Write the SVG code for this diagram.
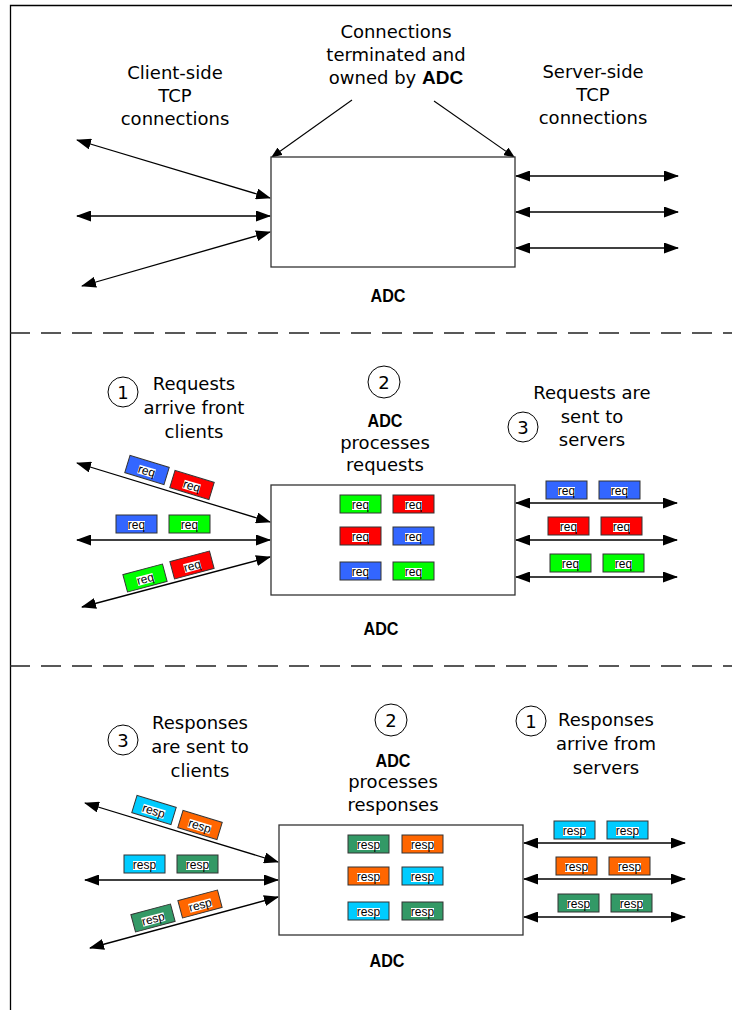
<svg xmlns="http://www.w3.org/2000/svg" width="732" height="1010" viewBox="0 0 732 1010">
<style>
.t{font-family:"DejaVu Sans",Verdana,sans-serif;font-size:18px;fill:#000;text-anchor:middle}
.b{font-family:"Liberation Sans",Arial,sans-serif;font-weight:bold;font-size:19px;fill:#000;text-anchor:middle}
.box{fill:#fff;stroke:#333;stroke-width:1.3}
.ln{stroke:#000;stroke-width:1.3;fill:none;marker-start:url(#ah);marker-end:url(#ah)}
.co{stroke:#000;stroke-width:1.1;fill:none;marker-end:url(#ah2)}
.frame{stroke:#000;stroke-width:1.3;fill:none}
.dash{stroke:#222;stroke-width:1.5;stroke-dasharray:20 11;fill:none}
.num{fill:#fff;stroke:#000;stroke-width:1}
.p{stroke:#333;stroke-width:1}
.w{fill:#fff;stroke:none}
.lt{font-family:"Liberation Sans",Arial,sans-serif;font-size:12px;fill:#000;text-anchor:middle}
.bl{fill:#3366FF}.rd{fill:#FF0000}.gr{fill:#00FF00}.cy{fill:#00CCFF}.or{fill:#FF6600}.sg{fill:#339966}
</style>
<defs>
<marker id="ah" markerUnits="userSpaceOnUse" markerWidth="15" markerHeight="11" viewBox="0 0 15 11" refX="14" refY="5.5" orient="auto-start-reverse"><path d="M0,0 L15,5.5 L0,11 z" fill="#000"/></marker>
<marker id="ah2" markerUnits="userSpaceOnUse" markerWidth="11" markerHeight="9" viewBox="0 0 11 9" refX="10" refY="4.5" orient="auto"><path d="M0,0 L11,4.5 L0,9 z" fill="#000"/></marker>
<g id="req"><rect class="w" x="12" y="6" width="17" height="9" fill="#fff"/><text class="lt" x="20.5" y="14" font-family="Liberation Sans, Arial, sans-serif" font-size="12" text-anchor="middle">req</text></g>
<g id="resp"><rect class="w" x="9" y="6" width="23" height="9" fill="#fff"/><text class="lt" x="20.5" y="14" font-family="Liberation Sans, Arial, sans-serif" font-size="12" text-anchor="middle">resp</text></g>
</defs>
<rect width="732" height="1010" fill="#fff"/>
<g id="frame">
<path class="frame" d="M10.5,1010 V5.5 H732"/>
<path class="dash" d="M10,333 H732"/>
<path class="dash" d="M10,666 H732"/>
</g>
<g id="connectors">
<line class="ln" x1="77" y1="140" x2="270" y2="198"/>
<line class="ln" x1="77" y1="216" x2="270" y2="216"/>
<line class="ln" x1="82" y1="286" x2="270" y2="232"/>
<line class="ln" x1="516" y1="176" x2="678" y2="176"/>
<line class="ln" x1="516" y1="212" x2="678" y2="212"/>
<line class="ln" x1="516" y1="248" x2="678" y2="248"/>
<line class="co" x1="352" y1="100" x2="272" y2="157"/>
<line class="co" x1="434" y1="101" x2="514" y2="157"/>
<line class="ln" x1="77" y1="463" x2="270" y2="522"/>
<line class="ln" x1="77" y1="540" x2="270" y2="540"/>
<line class="ln" x1="82" y1="607" x2="270" y2="557"/>
<line class="ln" x1="516" y1="503" x2="677" y2="503"/>
<line class="ln" x1="516" y1="540" x2="677" y2="540"/>
<line class="ln" x1="516" y1="577" x2="677" y2="577"/>
<line class="ln" x1="85" y1="803" x2="278" y2="862"/>
<line class="ln" x1="85" y1="880" x2="278" y2="880"/>
<line class="ln" x1="90" y1="948" x2="278" y2="897"/>
<line class="ln" x1="524" y1="843" x2="685" y2="843"/>
<line class="ln" x1="524" y1="879" x2="685" y2="879"/>
<line class="ln" x1="524" y1="917" x2="685" y2="917"/>
</g>
<g id="top-section">
<g id="adc-top"><rect class="box" x="271" y="157" width="244" height="110"/><text class="b" x="388" y="302" textLength="35" lengthAdjust="spacingAndGlyphs">ADC</text></g>
<g id="label-client"><text class="t" x="175" y="79">Client-side</text><text class="t" x="175" y="102">TCP</text><text class="t" x="175" y="125">connections</text></g>
<g id="label-owned"><text class="t" x="396" y="38">Connections</text><text class="t" x="396" y="61">terminated and</text><text class="t" x="396" y="84">owned by <tspan font-family="Liberation Sans, Arial, sans-serif" font-weight="bold" font-size="19">ADC</tspan></text></g>
<g id="label-server"><text class="t" x="593" y="78">Server-side</text><text class="t" x="593" y="101">TCP</text><text class="t" x="593" y="124">connections</text></g>
</g>
<g id="middle-section">
<g id="adc-mid"><rect class="box" x="271" y="485" width="244" height="110"/>
<g transform="translate(340,495)"><rect class="p gr" width="41" height="18"/><use href="#req"/></g>
<g transform="translate(393,495)"><rect class="p rd" width="41" height="18"/><use href="#req"/></g>
<g transform="translate(340,527)"><rect class="p rd" width="41" height="18"/><use href="#req"/></g>
<g transform="translate(393,527)"><rect class="p bl" width="41" height="18"/><use href="#req"/></g>
<g transform="translate(340,562)"><rect class="p bl" width="41" height="18"/><use href="#req"/></g>
<g transform="translate(393,562)"><rect class="p gr" width="41" height="18"/><use href="#req"/></g>
<text class="b" x="381" y="635" textLength="35" lengthAdjust="spacingAndGlyphs">ADC</text></g>
<g id="req-client">
<g transform="translate(147,470) rotate(17) translate(-20.5,-9)"><rect class="p bl" width="41" height="18"/><use href="#req"/></g>
<g transform="translate(192,485) rotate(17) translate(-20.5,-9)"><rect class="p rd" width="41" height="18"/><use href="#req"/></g>
<g transform="translate(116,515)"><rect class="p bl" width="41" height="18"/><use href="#req"/></g>
<g transform="translate(169,515)"><rect class="p gr" width="41" height="18"/><use href="#req"/></g>
<g transform="translate(145,578) rotate(-15) translate(-20.5,-9)"><rect class="p gr" width="41" height="18"/><use href="#req"/></g>
<g transform="translate(192,565) rotate(-15) translate(-20.5,-9)"><rect class="p rd" width="41" height="18"/><use href="#req"/></g>
</g>
<g id="req-server">
<g transform="translate(546,481)"><rect class="p bl" width="41" height="18"/><use href="#req"/></g>
<g transform="translate(599,481)"><rect class="p bl" width="41" height="18"/><use href="#req"/></g>
<g transform="translate(548,517)"><rect class="p rd" width="41" height="18"/><use href="#req"/></g>
<g transform="translate(601,517)"><rect class="p rd" width="41" height="18"/><use href="#req"/></g>
<g transform="translate(550,554)"><rect class="p gr" width="41" height="18"/><use href="#req"/></g>
<g transform="translate(603,554)"><rect class="p gr" width="41" height="18"/><use href="#req"/></g>
</g>
<g id="step-m1"><circle class="num" cx="123" cy="392" r="15"/><text class="t" x="123" y="399">1</text>
<text class="t" x="194" y="390">Requests</text><text class="t" x="194" y="414">arrive front</text><text class="t" x="194" y="438">clients</text></g>
<g id="step-m2"><circle class="num" cx="384" cy="382" r="16"/><text class="t" x="384" y="389">2</text>
<text class="b" x="385" y="427" textLength="35" lengthAdjust="spacingAndGlyphs">ADC</text><text class="t" x="385" y="449">processes</text><text class="t" x="385" y="471">requests</text></g>
<g id="step-m3"><circle class="num" cx="523" cy="427" r="15"/><text class="t" x="523" y="434">3</text>
<text class="t" x="592" y="399">Requests are</text><text class="t" x="592" y="423">sent to</text><text class="t" x="592" y="446">servers</text></g>
</g>
<g id="bottom-section">
<g id="adc-bot"><rect class="box" x="279" y="825" width="244" height="110"/>
<g transform="translate(348,835)"><rect class="p sg" width="41" height="18"/><use href="#resp"/></g>
<g transform="translate(402,835)"><rect class="p or" width="41" height="18"/><use href="#resp"/></g>
<g transform="translate(348,867)"><rect class="p or" width="41" height="18"/><use href="#resp"/></g>
<g transform="translate(402,867)"><rect class="p cy" width="41" height="18"/><use href="#resp"/></g>
<g transform="translate(348,902)"><rect class="p cy" width="41" height="18"/><use href="#resp"/></g>
<g transform="translate(402,902)"><rect class="p sg" width="41" height="18"/><use href="#resp"/></g>
<text class="b" x="387" y="967" textLength="35" lengthAdjust="spacingAndGlyphs">ADC</text></g>
<g id="resp-client">
<g transform="translate(154,810) rotate(17) translate(-20.5,-9)"><rect class="p cy" width="41" height="18"/><use href="#resp"/></g>
<g transform="translate(200,825) rotate(17) translate(-20.5,-9)"><rect class="p or" width="41" height="18"/><use href="#resp"/></g>
<g transform="translate(124,855)"><rect class="p cy" width="41" height="18"/><use href="#resp"/></g>
<g transform="translate(177,855)"><rect class="p sg" width="41" height="18"/><use href="#resp"/></g>
<g transform="translate(153,918) rotate(-15) translate(-20.5,-9)"><rect class="p sg" width="41" height="18"/><use href="#resp"/></g>
<g transform="translate(200,904) rotate(-15) translate(-20.5,-9)"><rect class="p or" width="41" height="18"/><use href="#resp"/></g>
</g>
<g id="resp-server">
<g transform="translate(554,821)"><rect class="p cy" width="41" height="18"/><use href="#resp"/></g>
<g transform="translate(607,821)"><rect class="p cy" width="41" height="18"/><use href="#resp"/></g>
<g transform="translate(556,857)"><rect class="p or" width="41" height="18"/><use href="#resp"/></g>
<g transform="translate(609,857)"><rect class="p or" width="41" height="18"/><use href="#resp"/></g>
<g transform="translate(558,894)"><rect class="p sg" width="41" height="18"/><use href="#resp"/></g>
<g transform="translate(611,894)"><rect class="p sg" width="41" height="18"/><use href="#resp"/></g>
</g>
<g id="step-b3"><circle class="num" cx="123" cy="740" r="15"/><text class="t" x="123" y="747">3</text>
<text class="t" x="200" y="729">Responses</text><text class="t" x="200" y="753">are sent to</text><text class="t" x="200" y="777">clients</text></g>
<g id="step-b2"><circle class="num" cx="391" cy="720" r="16"/><text class="t" x="391" y="727">2</text>
<text class="b" x="393" y="767" textLength="35" lengthAdjust="spacingAndGlyphs">ADC</text><text class="t" x="393" y="788">processes</text><text class="t" x="393" y="811">responses</text></g>
<g id="step-b1"><circle class="num" cx="531" cy="721" r="15"/><text class="t" x="531" y="728">1</text>
<text class="t" x="606" y="726">Responses</text><text class="t" x="606" y="750">arrive from</text><text class="t" x="606" y="774">servers</text></g>
</g>
</svg>
